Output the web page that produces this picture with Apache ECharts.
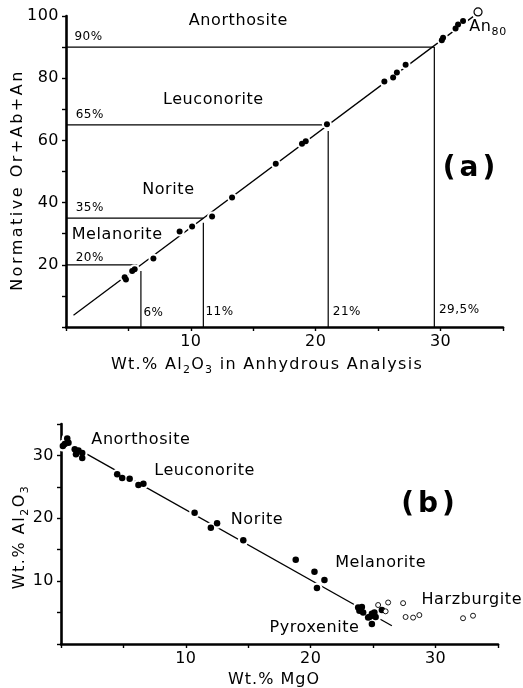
<!DOCTYPE html>
<html><head><meta charset="utf-8">
<script src="https://cdn.jsdelivr.net/npm/echarts@6/dist/echarts.min.js"></script>
<style>html,body{margin:0;padding:0;background:#fff}#c{width:523px;height:688px}</style>
</head><body><div id="c"></div>
<script>
// ---------- Panel (a): Normative Or+Ab+An vs Wt.% Al2O3 ----------
const alAnhydrous = [4.7, 4.8, 5.3, 5.5, 7.0, 9.1, 10.1, 11.7, 13.3, 16.8, 18.9, 19.2, 20.9, 25.5, 26.2, 26.5, 27.2, 30.1, 30.2, 31.2, 31.4, 31.8];
const normPlag    = [16.0, 15.3, 18.0, 18.6, 22.0, 30.7, 32.3, 35.5, 41.6, 52.5, 58.9, 59.7, 65.2, 78.9, 80.2, 81.8, 84.3, 92.2, 93.0, 96.0, 97.3, 98.4];
const an80Al = [33.0];
const an80Norm = [101.3];
const trendAx = [0.6, 32.6];
const trendAy = [3.8, 99.8];
const boundaryNorm = [20, 35, 65, 90];          // horizontal boundaries (% plagioclase)
const boundaryNormEnd = [5.7, 11, 20.6, 29.5];  // where each horizontal boundary stops (Al2O3)
const boundaryAl = [6, 11, 21, 29.5];           // vertical boundaries (Al2O3)
const boundaryAlTop = [18, 33.5, 63, 90];       // where each vertical boundary stops
const normPctLabels = ['20%', '35%', '65%', '90%'];
const alPctLabels = ['6%', '11%', '21%', '29,5%'];
const rockNamesA = ['Anorthosite', 'Leuconorite', 'Norite', 'Melanorite'];
const xTickLabelsA = [10, 20, 30];
const yTickLabelsA = [20, 40, 60, 80, 100];

// ---------- Panel (b): Wt.% Al2O3 vs Wt.% MgO ----------
const mgoFilled = [0.15, 0.3, 0.5, 0.6, 1.1, 1.2, 1.4, 1.7, 1.7, 4.5, 4.9, 5.5, 6.2, 6.6, 10.7, 12.0, 12.5, 14.6, 18.8, 20.3, 21.1, 20.5,
                   23.8, 24.1, 23.9, 24.2, 24.0, 24.7, 24.9, 25.0, 25.2, 24.6, 25.1, 24.9, 25.7];
const alFilled  = [31.5, 31.8, 32.7, 32.0, 31.0, 30.2, 30.8, 30.4, 29.6, 27.0, 26.4, 26.3, 25.3, 25.5, 20.9, 18.5, 19.2, 16.5, 13.4, 11.5, 10.2, 8.9,
                   5.8, 5.9, 5.3, 5.0, 5.5, 4.3, 4.8, 4.5, 4.3, 4.2, 5.0, 3.2, 5.4];
const mgoHarz = [25.4, 26.2, 26.0, 27.4, 27.6, 28.2, 28.7, 32.2, 33.0];
const alHarz  = [6.2, 6.6, 5.2, 6.5, 4.3, 4.2, 4.6, 4.1, 4.5];
const trendBx = [1.9, 26.5];
const trendBy = [30.4, 2.9];
const rockNamesB = ['Anorthosite', 'Leuconorite', 'Norite', 'Melanorite', 'Harzburgite', 'Pyroxenite'];
const xTickLabelsB = [10, 20, 30];
const yTickLabelsB = [10, 20, 30];

// ---------- letter tracking for the widely spaced lettering ----------
(function () {
  const P = CanvasRenderingContext2D.prototype;
  const d = Object.getOwnPropertyDescriptor(P, 'font');
  if (!d || !('letterSpacing' in P)) return;
  Object.defineProperty(P, 'font', {
    configurable: true,
    get() { return d.get.call(this); },
    set(v) {
      d.set.call(this, v);
      const m = /trk(\d+)/.exec(v);
      this.letterSpacing = m ? (m[1] / 10) + 'px' : '0px';
    }
  });
})();
const F = t => '"DejaVu Sans", trk' + t;

const zip = (a, b) => a.map((v, i) => [v, b[i]]);
const chart = echarts.init(document.getElementById('c'), null, {renderer: 'canvas'});

function axis(gridIndex, isX, labels) {
  return {
    gridIndex, type: 'value', min: 0, max: isX ? 35 : (gridIndex === 0 ? 100 : 35), interval: isX ? 5 : (gridIndex === 0 ? 10 : 5),
    axisLine: {show: true, onZero: false, lineStyle: {color: '#000', width: 2.6}},
    axisTick: {show: true, length: 4, lineStyle: {color: '#000', width: 1.4}},
    splitLine: {show: false},
    axisLabel: {color: '#000', fontSize: 16, fontFamily: F(5), margin: 7,
      formatter: v => labels.includes(v) ? String(v) : ''}
  };
}

const thin = {color: '#000', width: 1.2};
const series = [];

// Panel (a) boundary lines
boundaryNorm.forEach((p, i) => series.push({type: 'line', xAxisIndex: 0, yAxisIndex: 0, data: [[0, p], [boundaryNormEnd[i], p]],
  symbol: 'none', lineStyle: thin, z: 1, silent: true}));
boundaryAl.forEach((a, i) => series.push({type: 'line', xAxisIndex: 0, yAxisIndex: 0, data: [[a, 0], [a, boundaryAlTop[i]]],
  symbol: 'none', lineStyle: thin, z: 1, silent: true}));
// trend line (a)
series.push({type: 'line', xAxisIndex: 0, yAxisIndex: 0, data: zip(trendAx, trendAy), symbol: 'none',
  lineStyle: {color: '#000', width: 1.3}, z: 2, silent: true});
// halos + dots (a)
series.push({type: 'scatter', xAxisIndex: 0, yAxisIndex: 0, data: zip(alAnhydrous, normPlag), symbolSize: 10,
  itemStyle: {color: '#fff', opacity: 1}, z: 3, silent: true});
series.push({type: 'scatter', xAxisIndex: 0, yAxisIndex: 0, data: zip(alAnhydrous, normPlag), symbolSize: 6,
  itemStyle: {color: '#000', opacity: 1}, z: 4, silent: true});
// An80 open circle
series.push({type: 'scatter', xAxisIndex: 0, yAxisIndex: 0, data: zip(an80Al, an80Norm), symbolSize: 8, clip: false,
  itemStyle: {color: '#fff', borderColor: '#000', borderWidth: 1.2, opacity: 1}, z: 4, silent: true});

// Panel (b)
series.push({type: 'line', xAxisIndex: 1, yAxisIndex: 1, data: zip(trendBx, trendBy), symbol: 'none',
  lineStyle: {color: '#000', width: 1.3}, z: 2, silent: true});
series.push({type: 'scatter', xAxisIndex: 1, yAxisIndex: 1, data: zip(mgoFilled, alFilled), symbolSize: 11,
  itemStyle: {color: '#fff', opacity: 1}, z: 3, silent: true});
series.push({type: 'scatter', xAxisIndex: 1, yAxisIndex: 1, data: zip(mgoFilled, alFilled), symbolSize: 6.5,
  itemStyle: {color: '#000', opacity: 1}, z: 4, silent: true});
series.push({type: 'scatter', xAxisIndex: 1, yAxisIndex: 1, data: zip(mgoHarz, alHarz), symbolSize: 5,
  itemStyle: {color: '#fff', borderColor: '#000', borderWidth: 0.9, opacity: 1}, z: 4, silent: true});

// text annotations anchored in data coordinates
function textSeries(xi, items, fontSize, track) {
  return {type: 'scatter', xAxisIndex: xi, yAxisIndex: xi, symbolSize: 1, clip: false, silent: true, z: 6,
    itemStyle: {color: 'rgba(0,0,0,0)', opacity: 1},
    label: {show: true, position: 'inside', color: '#000', opacity: 1, textBorderWidth: 0, fontSize, fontFamily: F(track),
      formatter: p => p.name,
      rich: {n: {fontSize: 16, fontFamily: F(track), color: '#000', lineHeight: 22, verticalAlign: 'middle'},
             s: {fontSize: 11, fontFamily: F(track), color: '#000', lineHeight: 11, verticalAlign: 'bottom'}}},
    data: items.map(d => ({name: d[0], value: [d[1], d[2]]}))};
}
series.push(textSeries(0, [
  [rockNamesA[0], 13.8, 98.3], [rockNamesA[1], 11.8, 73.2], [rockNamesA[2], 8.2, 44.0], [rockNamesA[3], 4.1, 29.6]
], 16, 6));
series.push(textSeries(0, [
  [normPctLabels[0], 1.9, 22.3], [normPctLabels[1], 1.9, 38.3], [normPctLabels[2], 1.9, 68.2], [normPctLabels[3], 1.8, 93.2],
  [alPctLabels[0], 7.0, 4.6], [alPctLabels[1], 12.3, 4.8], [alPctLabels[2], 22.5, 5.0], [alPctLabels[3], 31.5, 5.4]
], 12, 5));
series.push(textSeries(0, [['{n|An}{s|80}', 33.8, 96.6]], 16, 6));
series.push(textSeries(1, [
  [rockNamesB[0], 6.4, 32.4], [rockNamesB[1], 11.5, 27.6], [rockNamesB[2], 15.7, 19.8],
  [rockNamesB[3], 25.6, 12.9], [rockNamesB[4], 32.9, 7.0], [rockNamesB[5], 20.3, 2.6]
], 16, 6));

const sub = t => ({
  n: {fontSize: 16, fontFamily: F(t), fill: '#000', lineHeight: 22, verticalAlign: 'middle'},
  s: {fontSize: 11, fontFamily: F(t), fill: '#000', lineHeight: 11, verticalAlign: 'bottom'}
});

chart.setOption({
  animation: false,
  backgroundColor: '#fff',
  grid: [
    {left: 66, right: 20, top: 16, bottom: 361, containLabel: false},
    {left: 61, right: 25, top: 424, bottom: 44, containLabel: false}
  ],
  xAxis: [axis(0, true, xTickLabelsA), axis(1, true, xTickLabelsB)],
  yAxis: [axis(0, false, yTickLabelsA), axis(1, false, yTickLabelsB)],
  series,
  graphic: [
    {type: 'text', x: 267, y: 365, silent: true, style: {text: '{n|Wt.% Al}{s|2}{n|O}{s|3}{n| in Anhydrous Analysis}', rich: sub(13),
      align: 'center', verticalAlign: 'middle', fill: '#000', fontFamily: F(13), fontSize: 16}},
    {type: 'text', x: 18, y: 180, rotation: Math.PI / 2, silent: true, style: {text: 'Normative Or+Ab+An',
      align: 'center', verticalAlign: 'middle', fill: '#000', fontFamily: F(25), fontSize: 16}},
    {type: 'text', x: 274, y: 680, silent: true, style: {text: 'Wt.% MgO',
      align: 'center', verticalAlign: 'middle', fill: '#000', fontFamily: F(10), fontSize: 16}},
    {type: 'text', x: 20, y: 537, rotation: Math.PI / 2, silent: true, style: {text: '{n|Wt.% Al}{s|2}{n|O}{s|3}', rich: sub(15),
      align: 'center', verticalAlign: 'middle', fill: '#000', fontFamily: F(15), fontSize: 16}},
    {type: 'text', x: 471, y: 169, silent: true, style: {text: '(a)',
      align: 'center', verticalAlign: 'middle', fill: '#000', fontFamily: F(40), fontSize: 28, fontWeight: 'bold'}},
    {type: 'text', x: 430, y: 505, silent: true, style: {text: '(b)',
      align: 'center', verticalAlign: 'middle', fill: '#000', fontFamily: F(40), fontSize: 28, fontWeight: 'bold'}}
  ]
});
</script></body></html>
